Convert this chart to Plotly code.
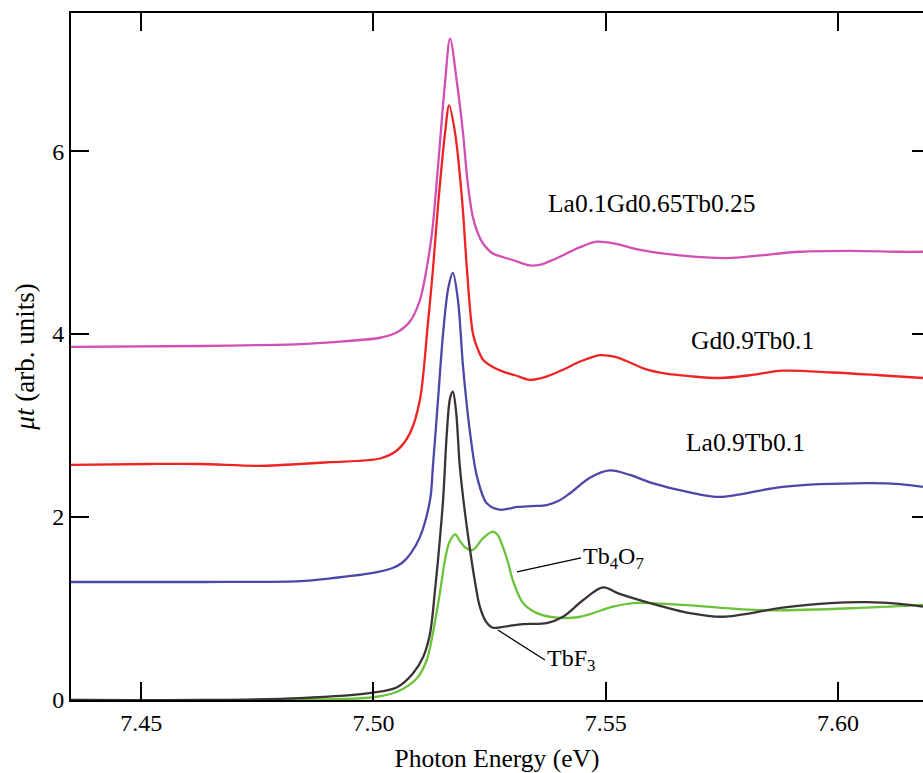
import plotly.graph_objects as go

# Tb L-edge absorption spectra
e_lgt = [7.4349, 7.4627, 7.4842, 7.4907, 7.5014, 7.5051, 7.5079, 7.5100, 7.5115, 7.5126,
         7.5139, 7.5154, 7.5165, 7.5180, 7.5193, 7.5203, 7.5214, 7.5225, 7.5236, 7.5257,
         7.5280, 7.5300, 7.5337, 7.5360, 7.5386, 7.5445, 7.5481, 7.5520, 7.5574, 7.5660,
         7.5761, 7.5832, 7.5918, 7.6026, 7.6133, 7.6183]
mu_lgt = [3.86, 3.87, 3.89, 3.91, 3.96, 4.02, 4.14, 4.37, 4.73, 5.10,
          5.83, 6.74, 7.23, 6.74, 6.19, 5.65, 5.28, 5.10, 4.99, 4.88,
          4.84, 4.81, 4.75, 4.76, 4.81, 4.95, 5.01, 4.99, 4.92, 4.86,
          4.83, 4.86, 4.90, 4.91, 4.90, 4.90]

e_gt = [7.4349, 7.4519, 7.4627, 7.4756, 7.4842, 7.4907, 7.5014, 7.5051, 7.5079, 7.5100,
        7.5117, 7.5128, 7.5139, 7.5154, 7.5163, 7.5176, 7.5191, 7.5201, 7.5214, 7.5225,
        7.5236, 7.5257, 7.5279, 7.5305, 7.5337, 7.5369, 7.5408, 7.5445, 7.5488, 7.5520,
        7.5552, 7.5584, 7.5627, 7.5681, 7.5746, 7.5810, 7.5881, 7.5989, 7.6090, 7.6183]
mu_gt = [2.57, 2.58, 2.58, 2.56, 2.58, 2.60, 2.64, 2.73, 2.92, 3.28,
         4.10, 4.70, 5.40, 6.19, 6.50, 6.19, 5.46, 4.73, 4.01, 3.83,
         3.72, 3.64, 3.59, 3.55, 3.50, 3.53, 3.61, 3.70, 3.77, 3.75,
         3.69, 3.62, 3.57, 3.54, 3.52, 3.55, 3.60, 3.58, 3.55, 3.52]

e_lt = [7.4349, 7.4627, 7.4842, 7.4907, 7.4999, 7.5040, 7.5062, 7.5080, 7.5100, 7.5122,
        7.5128, 7.5139, 7.5150, 7.5161, 7.5171, 7.5182, 7.5193, 7.5208, 7.5223, 7.5244,
        7.5272, 7.5309, 7.5340, 7.5373, 7.5400, 7.5423, 7.5466, 7.5509, 7.5552, 7.5595,
        7.5681, 7.5746, 7.5881, 7.6062, 7.6133, 7.6183]
mu_lt = [1.29, 1.29, 1.30, 1.33, 1.39, 1.44, 1.50, 1.60, 1.78, 2.19,
         2.55, 3.28, 4.01, 4.50, 4.67, 4.37, 3.64, 2.92, 2.44, 2.15,
         2.08, 2.11, 2.12, 2.13, 2.18, 2.26, 2.43, 2.51, 2.46, 2.38,
         2.27, 2.22, 2.33, 2.37, 2.36, 2.33]

e_tbf3 = [7.4349, 7.4627, 7.4842, 7.4999, 7.5051, 7.5085, 7.5107, 7.5122, 7.5132, 7.5139,
          7.5150, 7.5158, 7.5165, 7.5171, 7.5178, 7.5186, 7.5197, 7.5208, 7.5219, 7.5229,
          7.5242, 7.5257, 7.5279, 7.5322, 7.5373, 7.5408, 7.5451, 7.5494, 7.5530, 7.5595,
          7.5681, 7.5752, 7.5881, 7.5983, 7.6062, 7.6133, 7.6183]
mu_tbf3 = [0.00, 0.00, 0.02, 0.08, 0.14, 0.29, 0.47, 0.73, 1.17, 1.53,
           2.19, 2.92, 3.30, 3.37, 3.15, 2.55, 2.05, 1.64, 1.28, 1.02,
           0.86, 0.79, 0.80, 0.83, 0.84, 0.91, 1.09, 1.23, 1.16, 1.06,
           0.95, 0.91, 1.01, 1.06, 1.07, 1.05, 1.02]

e_tb4o7 = [7.4349, 7.4842, 7.4999, 7.5051, 7.5094, 7.5115, 7.5128, 7.5143, 7.5154, 7.5163,
           7.5176, 7.5186, 7.5197, 7.5214, 7.5236, 7.5257, 7.5268, 7.5279, 7.5290, 7.5300,
           7.5322, 7.5352, 7.5395, 7.5445, 7.5516, 7.5559, 7.5666, 7.5847, 7.6062, 7.6183]
mu_tb4o7 = [0.00, 0.00, 0.03, 0.09, 0.24, 0.44, 0.73, 1.17, 1.53, 1.72,
            1.81, 1.74, 1.67, 1.64, 1.77, 1.84, 1.80, 1.67, 1.50, 1.31,
            1.06, 0.95, 0.90, 0.91, 1.02, 1.06, 1.04, 0.98, 1.01, 1.04]

series = [
    ("La0.1Gd0.65Tb0.25", e_lgt, mu_lgt, "#d24fb4"),
    ("Gd0.9Tb0.1", e_gt, mu_gt, "#ee2424"),
    ("La0.9Tb0.1", e_lt, mu_lt, "#4d47a8"),
    ("Tb4O7", e_tb4o7, mu_tb4o7, "#6cc23a"),
    ("TbF3", e_tbf3, mu_tbf3, "#3b3335"),
]

x_ticks = [7.45, 7.50, 7.55, 7.60]
y_ticks = [0, 2, 4, 6]
x_range = [7.4349, 7.6183]
y_range = [0, 7.51]

FONT = "Liberation Serif"

fig = go.Figure()
for name, e, mu, color in series:
    fig.add_trace(go.Scatter(
        x=e, y=mu, name=name, mode="lines",
        line=dict(color=color, width=2.3, shape="spline", smoothing=0.9),
        showlegend=False,
    ))
# invisible companion trace for the right-hand tick axis
fig.add_trace(go.Scatter(x=[x_range[0]], y=[0], yaxis="y2", mode="lines",
                         showlegend=False, hoverinfo="skip",
                         line=dict(width=0)))

# curve labels
for text, x, y in [("La0.1Gd0.65Tb0.25", 7.5600, 5.43),
                   ("Gd0.9Tb0.1", 7.5815, 3.93),
                   ("La0.9Tb0.1", 7.5800, 2.81)]:
    fig.add_annotation(x=x, y=y, text=text, showarrow=False,
                       font=dict(family=FONT, size=25.5, color="black"))

# labels with leader lines
fig.add_annotation(x=7.5309, y=1.40, text="Tb<sub>4</sub>O<sub>7</sub>",
                   showarrow=True, arrowhead=0, arrowwidth=1.3, arrowcolor="black",
                   ax=64, ay=-14, xanchor="left", yanchor="middle", standoff=0,
                   font=dict(family=FONT, size=24, color="black"))
fig.add_annotation(x=7.5268, y=0.765, text="TbF<sub>3</sub>",
                   showarrow=True, arrowhead=0, arrowwidth=1.3, arrowcolor="black",
                   ax=47, ay=30, xanchor="left", yanchor="middle", standoff=0,
                   font=dict(family=FONT, size=24, color="black"))

fig.update_layout(
    width=923, height=773,
    margin=dict(l=71, r=0, t=13, b=73),
    paper_bgcolor="white", plot_bgcolor="white",
    xaxis=dict(
        range=x_range, tickvals=x_ticks, ticktext=[f"{v:.2f}" for v in x_ticks],
        ticks="inside", ticklen=18, tickwidth=2, tickcolor="black",
        showline=True, linewidth=2, linecolor="black", mirror="ticks",
        showgrid=False, zeroline=False,
        title=dict(text="Photon Energy (eV)", standoff=14,
                   font=dict(family=FONT, size=25.5, color="black")),
        tickfont=dict(family=FONT, size=24, color="black"),
    ),
    yaxis=dict(
        range=y_range, tickvals=y_ticks,
        ticks="inside", ticklen=18, tickwidth=2, tickcolor="black",
        showline=True, linewidth=2, linecolor="black",
        showgrid=False, zeroline=False,
        title=dict(text="<i>μt</i> (arb. units)", standoff=10,
                   font=dict(family=FONT, size=27, color="black")),
        tickfont=dict(family=FONT, size=24, color="black"),
    ),
    yaxis2=dict(
        range=y_range, tickvals=y_ticks, overlaying="y", side="right",
        ticks="inside", ticklen=11, tickwidth=2, tickcolor="black",
        showticklabels=False, showline=False, showgrid=False, zeroline=False,
    ),
)

fig.write_html("out.html")
